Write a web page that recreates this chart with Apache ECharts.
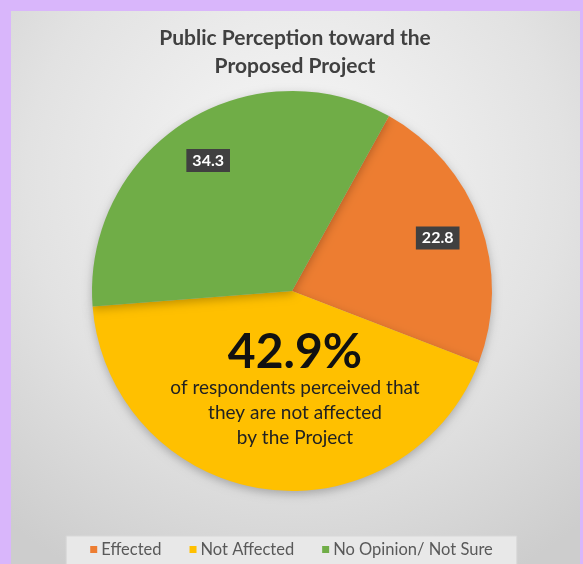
<!DOCTYPE html>
<html>
<head>
<meta charset="utf-8">
<script src="https://cdn.jsdelivr.net/npm/echarts@6/dist/echarts.min.js"></script>
<style>
html,body{margin:0;padding:0;background:#d9b6fb;}
#chart{width:583px;height:564px;}
</style>
</head>
<body>
<div id="chart"></div>
<script>
const titleLines = ['Public Perception toward the', 'Proposed Project'];
const categories = ['Effected', 'Not Affected', 'No Opinion/ Not Sure'];
const values = [22.8, 42.9, 34.3];
const colors = ['#ED7D31', '#FFC000', '#70AD47'];
const highlightIndex = 1;
const calloutLines = ['of respondents perceived that', 'they are not affected', 'by the Project'];

const chart = echarts.init(document.getElementById('chart'), null, {renderer: 'canvas'});
const FONT = 'Lato, "Open Sans", sans-serif';
const CX = 292, CY = 291, R = 200;

const mainData = categories.map((c, i) => ({name: c, value: values[i], itemStyle: {color: colors[i]}}));
const labelData = categories.map((c, i) => ({
  name: c, value: values[i],
  label: {show: i !== highlightIndex}
}));

const option = {
  backgroundColor: '#d9b6fb',
  animation: false,
  graphic: [
    {
      type: 'rect', z: -10, silent: true,
      shape: {x: 11, y: 11, width: 569, height: 560},
      style: {
        fill: {
          type: 'radial', x: 0.5, y: 0.3, r: 0.8,
          colorStops: [{offset: 0, color: '#f8f8f8'}, {offset: 0.6, color: '#e2e2e2'}, {offset: 1, color: '#cdcdcd'}]
        }
      }
    },
    {
      type: 'text', z: 100, silent: true, x: 295, y: 52,
      style: {
        text: titleLines.join('\n'), fill: '#404040', font: 'bold 21px ' + FONT,
        textAlign: 'center', textVerticalAlign: 'middle', lineHeight: 28
      }
    },
    {
      type: 'text', z: 100, silent: true, x: 295, y: 353,
      style: {
        text: values[highlightIndex].toFixed(1) + '%', fill: '#111111', font: 'bold 48px ' + FONT,
        textAlign: 'center', textVerticalAlign: 'middle'
      }
    },
    {
      type: 'text', z: 100, silent: true, x: 295, y: 413,
      style: {
        text: calloutLines.join('\n'), fill: '#222222', font: '19px ' + FONT,
        textAlign: 'center', textVerticalAlign: 'middle', lineHeight: 25
      }
    }
  ],
  legend: {
    data: categories,
    left: 'center',
    top: 536,
    icon: 'rect',
    itemWidth: 7,
    itemHeight: 7,
    itemGap: 28,
    padding: [5, 24, 12, 24],
    backgroundColor: '#e8e8e8',
    borderColor: '#d8d8d8',
    borderWidth: 1,
    textStyle: {color: '#595959', fontSize: 16.5, fontFamily: FONT, padding: [0, 0, 0, -1]}
  },
  series: [
    {
      type: 'pie',
      name: 'main',
      center: [CX, CY],
      radius: [0, R],
      startAngle: 61,
      clockwise: true,
      label: {show: false},
      labelLine: {show: false},
      emphasis: {disabled: true},
      itemStyle: {shadowBlur: 10, shadowOffsetY: 3, shadowColor: 'rgba(0,0,0,0.25)'},
      data: mainData
    },
    {
      type: 'pie',
      name: 'labels',
      center: [CX, CY],
      radius: [R * 0.52, R],
      startAngle: 61,
      clockwise: true,
      silent: true,
      z: 5,
      itemStyle: {color: 'rgba(0,0,0,0)'},
      emphasis: {disabled: true},
      labelLine: {show: false},
      label: {
        show: true,
        position: 'inside',
        formatter: p => p.value.toFixed(1),
        color: '#ffffff',
        fontWeight: 'bold',
        fontSize: 16,
        fontFamily: FONT,
        backgroundColor: '#404040',
        padding: [4, 6, 3, 6]
      },
      data: labelData
    }
  ]
};
chart.setOption(option);
</script>
</body>
</html>
